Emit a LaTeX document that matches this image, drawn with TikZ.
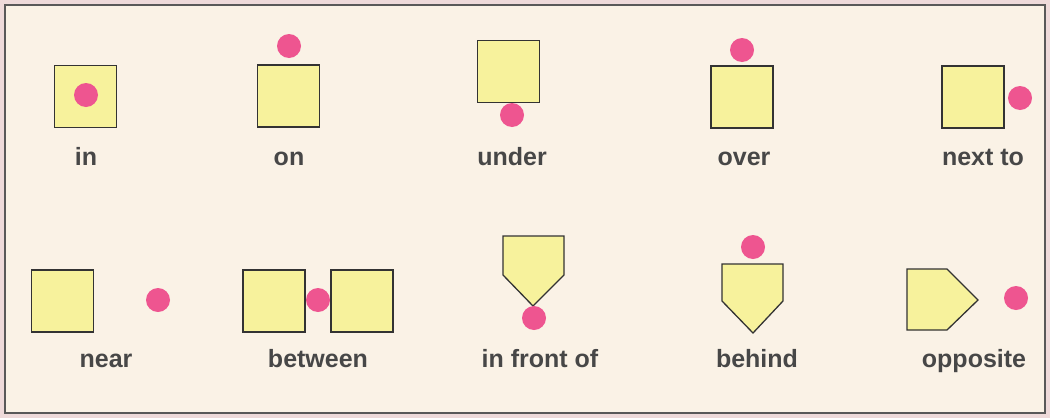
\documentclass[tikz,border=0pt]{standalone}
\usepackage{fontspec}
\setsansfont{Liberation Sans}
\definecolor{boxyellow}{HTML}{F7F29C}
\definecolor{dotpink}{HTML}{EE5590}
\definecolor{paper}{HTML}{FAF2E6}
\definecolor{rim}{HTML}{EEDADA}
\definecolor{inkgray}{HTML}{474747}

\begin{document}
\begin{tikzpicture}[
  x=1pt,y=-1pt,
  box/.style={draw=black!80,fill=boxyellow,line width=1.3pt,minimum size=62pt,inner sep=0pt},
  shield/.style={draw=black!80,fill=boxyellow,line width=1.3pt,line join=miter},
  dot/.style={circle,fill=dotpink,minimum size=24pt,inner sep=0pt},
  word/.style={font=\sffamily\bfseries\fontsize{25}{25}\selectfont,text=inkgray,anchor=base},
]
\fill[rim] (0,0) rectangle (1050,418);
\draw[draw=black!65,line width=1.4pt,fill=paper] (5,5) rectangle (1045,413);

% first row
\node[box] (inbox) at (85.5,96.5) {};
\node[dot] (indot) at (86,95) {};
\node[word] (inlbl) at (86,165) {in};

\node[box] (onbox) at (288.5,96) {};
\node[dot] (ondot) at (289,46) {};
\node[word] (onlbl) at (289,165) {on};

\node[box] (underbox) at (508.5,71.5) {};
\node[dot] (underdot) at (512,115) {};
\node[word] (underlbl) at (512,165) {under};

\node[box] (overbox) at (742,97) {};
\node[dot] (overdot) at (742,50) {};
\node[word] (overlbl) at (744,165) {over};

\node[box] (nextbox) at (973,97) {};
\node[dot] (nextdot) at (1020,98) {};
\node[word] (nextlbl) at (983,165) {next to};

% second row
\node[box] (nearbox) at (62.5,301) {};
\node[dot] (neardot) at (158,300) {};
\node[word] (nearlbl) at (106,367) {near};

\node[box] (betwleft) at (274,301) {};
\node[box] (betwright) at (362,301) {};
\node[dot] (betwdot) at (318,300) {};
\node[word] (betwlbl) at (318,367) {between};

\draw[shield] (503,236) -- (564,236) -- (564,275) -- (533,306) -- (503,275) -- cycle;
\node[dot] (frontdot) at (534,318) {};
\node[word] (frontlbl) at (540,367) {in front of};

\draw[shield] (722,264) -- (783,264) -- (783,301) -- (753,333) -- (722,301) -- cycle;
\node[dot] (behinddot) at (753,247) {};
\node[word] (behindlbl) at (757,367) {behind};

\draw[shield] (907,269) -- (947,269) -- (978,300) -- (947,330) -- (907,330) -- cycle;
\node[dot] (oppdot) at (1016,298) {};
\node[word] (opplbl) at (974,367) {opposite};
\end{tikzpicture}
\end{document}
